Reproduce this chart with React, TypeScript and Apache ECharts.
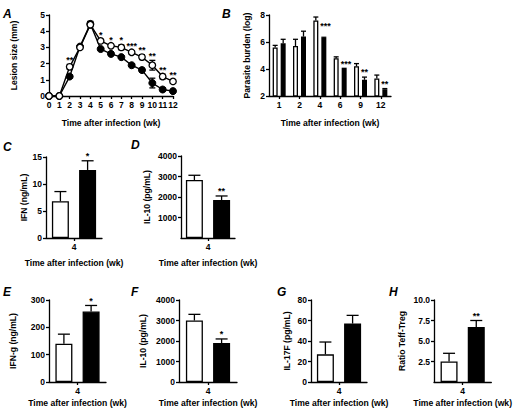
import React, { useEffect, useRef } from "react";
import * as echarts from "echarts";

// ---------- Data ----------
const weeks = [0, 1, 2, 3, 4, 5, 6, 7, 8, 9, 10, 11, 12];
const lesionOpen = [0, 0, 1.8, 3.0, 4.4, 3.4, 3.1, 3.0, 2.7, 2.4, 1.9, 1.2, 0.9];
const lesionOpenErr = [0, 0, 0.15, 0.1, 0.2, 0.1, 0.1, 0.15, 0.1, 0.15, 0.3, 0.15, 0.1];
const lesionFilled = [0, 0, 1.2, 3.05, 4.45, 2.9, 2.6, 2.4, 1.9, 1.6, 0.8, 0.4, 0.3];
const lesionFilledErr = [0, 0, 0.1, 0.1, 0.15, 0.1, 0.08, 0.08, 0.1, 0.1, 0.3, 0.12, 0.05];
const lesionStars = ["", "", "**", "", "", "*", "*", "*", "***", "**", "**", "**", "**"];

const parasiteWeeks = ["1", "2", "4", "6", "9", "12"];
const parasiteOpen = [5.6, 5.7, 7.6, 4.8, 4.2, 3.3];
const parasiteOpenErr = [0.15, 0.5, 0.25, 0.1, 0.2, 0.25];
const parasiteFilled = [5.9, 6.4, 6.3, 4.0, 3.2, 2.5];
const parasiteFilledErr = [0.3, 0.4, 0.05, 0.05, 0.2, 0.05];
const parasiteStars = ["", "", "***", "***", "**", "**"];

const singleWeek = ["4"];
const ifnC = [6.8, 12.6];
const ifnCErr = [1.8, 1.7];
const il10D = [2830, 1850];
const il10DErr = [230, 200];
const ifngE = [140, 258];
const ifngEErr = [35, 22];
const il10F = [3000, 1900];
const il10FErr = [300, 200];
const il17G = [27, 57];
const il17GErr = [12, 8];
const ratioH = [2.5, 6.7];
const ratioHErr = [1.0, 0.8];

const xTitle = "Time after infection (wk)";

// ---------- Styles ----------
const BLACK = "#000000";
const FONT = "'Liberation Sans', Arial, Helvetica, sans-serif";
const nameStyle = { color: BLACK, fontSize: 8.6, fontWeight: "bold", fontFamily: FONT };
const labelStyle = { color: BLACK, fontSize: 8.5, fontWeight: "bold", fontFamily: FONT };
const axisLine = { show: true, onZero: false, lineStyle: { color: BLACK, width: 1.3 } };
const axisTick = { show: true, length: 3, lineStyle: { color: BLACK, width: 1.3 } };
const STAR_FONT = "bold 9px 'Liberation Sans', Arial, sans-serif";

const grids = [
  { left: 49, top: 15, width: 124, height: 81 }, // A
  { left: 269, top: 15, width: 122, height: 81 }, // B
  { left: 46, top: 157, width: 56, height: 81 }, // C
  { left: 181, top: 156, width: 54, height: 82 }, // D
  { left: 49, top: 300, width: 57, height: 82 }, // E
  { left: 179, top: 300, width: 58, height: 82 }, // F
  { left: 311, top: 300, width: 56, height: 82 }, // G
  { left: 434, top: 300, width: 59, height: 82 }, // H
];

const letters = [
  { t: "A", x: 3, y: 14 },
  { t: "B", x: 222, y: 14 },
  { t: "C", x: 3, y: 147 },
  { t: "D", x: 131, y: 145 },
  { t: "E", x: 3, y: 292 },
  { t: "F", x: 131, y: 292 },
  { t: "G", x: 277, y: 292 },
  { t: "H", x: 389, y: 292 },
];

const plainFmt = (v: number) => String(v);

function yAxis(gi: number, min: number, max: number, interval: number, name: string, nameGap: number) {
  return {
    type: "value",
    gridIndex: gi,
    min,
    max,
    interval,
    name,
    nameLocation: "middle",
    nameGap,
    nameTextStyle: nameStyle,
    axisLine,
    axisTick,
    axisLabel: { ...labelStyle, margin: 4, formatter: plainFmt } as any,
    splitLine: { show: false },
  };
}

function catXAxis(gi: number, data: string[], nameGap: number) {
  return {
    type: "category",
    gridIndex: gi,
    data,
    name: xTitle,
    nameLocation: "middle",
    nameGap,
    nameTextStyle: nameStyle,
    axisLine,
    axisTick: { ...axisTick, alignWithLabel: true },
    axisLabel: { ...labelStyle, margin: 4 },
    splitLine: { show: false },
  };
}

function errorBars(ai: number, rows: number[][], off: number, cap: number, both: boolean) {
  return {
    type: "custom",
    xAxisIndex: ai,
    yAxisIndex: ai,
    z: 6,
    clip: false,
    data: rows,
    renderItem: (params: any, api: any) => {
      const c = api.value(0);
      const v = api.value(1);
      const e = api.value(2);
      const s = api.value(3);
      const base = api.coord([c, v]);
      const top = api.coord([c, v + e]);
      const bot = api.coord([c, v - e]);
      const x = base[0] + s * off;
      const st = { stroke: BLACK, lineWidth: 1.3 };
      const children: any[] = [
        { type: "line", shape: { x1: x, y1: both ? bot[1] : base[1], x2: x, y2: top[1] }, style: st },
        { type: "line", shape: { x1: x - cap / 2, y1: top[1], x2: x + cap / 2, y2: top[1] }, style: st },
      ];
      if (both) {
        children.push({ type: "line", shape: { x1: x - cap / 2, y1: bot[1], x2: x + cap / 2, y2: bot[1] }, style: st });
      }
      return { type: "group", children };
    },
  };
}

function starSeries(ai: number, rows: number[][], texts: string[], dx: number, dy: number, align: string, vAlign: string) {
  return {
    type: "custom",
    xAxisIndex: ai,
    yAxisIndex: ai,
    z: 7,
    clip: false,
    data: rows,
    renderItem: (params: any, api: any) => {
      const p = api.coord([api.value(0), api.value(1)]);
      return {
        type: "text",
        x: p[0] + dx,
        y: p[1] + dy,
        style: {
          text: texts[params.dataIndex],
          fill: BLACK,
          font: STAR_FONT,
          align,
          verticalAlign: vAlign,
          textAlign: align,
          textVerticalAlign: vAlign,
        },
      };
    },
  };
}

const BW = 17;
const BGAP = 0.6;
const OFF = (BW * (1 + BGAP)) / 2;
const BW_B = 5;
const OFF_B = (BW_B * (1 + BGAP)) / 2;

const openBarStyle = { color: "#ffffff", borderColor: BLACK, borderWidth: 1.3 };
const filledBarStyle = { color: BLACK, borderColor: BLACK, borderWidth: 1.3 };

const barPanels = [
  { gi: 2, vals: ifnC, errs: ifnCErr, star: "*", min: 0, max: 15, interval: 5, yName: "IFN (ng/mL)", yGap: 14.7, xGap: 20.7, hideMin: false, fmt: null as any },
  { gi: 3, vals: il10D, errs: il10DErr, star: "**", min: 0, max: 4000, interval: 1000, yName: "IL-10 (pg/mL)", yGap: 29.7, xGap: 20.7, hideMin: true, fmt: null },
  { gi: 4, vals: ifngE, errs: ifngEErr, star: "*", min: 0, max: 300, interval: 100, yName: "IFN-g (ng/mL)", yGap: 31.7, xGap: 16.7, hideMin: false, fmt: null },
  { gi: 5, vals: il10F, errs: il10FErr, star: "*", min: 0, max: 4000, interval: 1000, yName: "IL-10 (pg/mL)", yGap: 31.7, xGap: 16.7, hideMin: false, fmt: null },
  { gi: 6, vals: il17G, errs: il17GErr, star: "", min: 0, max: 80, interval: 20, yName: "IL-17F (pg/mL)", yGap: 19.7, xGap: 16.7, hideMin: false, fmt: null },
  { gi: 7, vals: ratioH, errs: ratioHErr, star: "**", min: 0, max: 10, interval: 2.5, yName: "Ratio Teff-Treg", yGap: 27.7, xGap: 16.7, hideMin: true, fmt: (v: number) => v.toFixed(1) },
];

function buildOption() {
  const xAxes: any[] = [];
  const yAxes: any[] = [];
  const series: any[] = [];

  // Panel A
  xAxes.push({
    type: "value",
    gridIndex: 0,
    min: 0,
    max: 12,
    interval: 1,
    name: xTitle,
    nameLocation: "middle",
    nameGap: 22.7,
    nameTextStyle: nameStyle,
    axisLine,
    axisTick,
    axisLabel: { ...labelStyle, margin: 4, formatter: plainFmt },
    splitLine: { show: false },
  });
  yAxes.push(yAxis(0, 0, 5, 1, "Lesion size (mm)", 30.7));
  series.push(
    errorBars(0, weeks.map((w, i) => [w, lesionFilled[i], lesionFilledErr[i], 0]).filter((r) => r[2] > 0), 0, 6, true),
    errorBars(0, weeks.map((w, i) => [w, lesionOpen[i], lesionOpenErr[i], 0]).filter((r) => r[2] > 0), 0, 6, true),
    {
      type: "line",
      xAxisIndex: 0,
      yAxisIndex: 0,
      data: weeks.map((w, i) => [w, lesionFilled[i]]),
      symbol: "circle",
      symbolSize: 7,
      clip: false,
      z: 8,
      lineStyle: { color: BLACK, width: 1.4 },
      itemStyle: { color: BLACK, borderColor: BLACK, borderWidth: 1 },
    },
    {
      type: "line",
      xAxisIndex: 0,
      yAxisIndex: 0,
      data: weeks.map((w, i) => [w, lesionOpen[i]]),
      symbol: "circle",
      symbolSize: 6.5,
      clip: false,
      z: 9,
      lineStyle: { color: BLACK, width: 1.4 },
      itemStyle: { color: "#ffffff", borderColor: BLACK, borderWidth: 1.3 },
    }
  );
  {
    const idx = weeks.map((w, i) => i).filter((i) => lesionStars[i]);
    series.push(
      starSeries(
        0,
        idx.map((i) => [weeks[i], lesionOpen[i] + lesionOpenErr[i]]),
        idx.map((i) => lesionStars[i]),
        0,
        0,
        "center",
        "bottom"
      )
    );
  }

  // Panel B
  xAxes.push(catXAxis(1, parasiteWeeks, 22.7));
  yAxes.push(yAxis(1, 2, 8, 2, "Parasite burden (log)", 17.7));
  series.push(
    { type: "bar", xAxisIndex: 1, yAxisIndex: 1, data: parasiteOpen, barWidth: BW_B, barGap: BGAP * 100 + "%", itemStyle: openBarStyle, z: 3 },
    { type: "bar", xAxisIndex: 1, yAxisIndex: 1, data: parasiteFilled, barWidth: BW_B, barGap: BGAP * 100 + "%", itemStyle: filledBarStyle, z: 3 },
    errorBars(
      1,
      parasiteWeeks.flatMap((c, i) => [
        [i, parasiteOpen[i], parasiteOpenErr[i], -1],
        [i, parasiteFilled[i], parasiteFilledErr[i], 1],
      ]),
      OFF_B,
      5,
      false
    )
  );
  {
    const idx = parasiteWeeks.map((c, i) => i).filter((i) => parasiteStars[i]);
    series.push(
      starSeries(
        1,
        idx.map((i) => [i, parasiteOpen[i]]),
        idx.map((i) => parasiteStars[i]),
        0.5,
        1.5,
        "left",
        "top"
      )
    );
  }

  // Panels C-H
  barPanels.forEach((p) => {
    xAxes.push(catXAxis(p.gi, singleWeek, p.xGap));
    const ya: any = yAxis(p.gi, p.min, p.max, p.interval, p.yName, p.yGap);
    if (p.hideMin) ya.axisLabel.showMinLabel = false;
    if (p.fmt) ya.axisLabel.formatter = p.fmt;
    yAxes.push(ya);
    series.push(
      { type: "bar", xAxisIndex: p.gi, yAxisIndex: p.gi, data: [p.vals[0]], barWidth: BW, barGap: BGAP * 100 + "%", itemStyle: openBarStyle, z: 3 },
      { type: "bar", xAxisIndex: p.gi, yAxisIndex: p.gi, data: [p.vals[1]], barWidth: BW, barGap: BGAP * 100 + "%", itemStyle: filledBarStyle, z: 3 },
      errorBars(
        p.gi,
        [
          [0, p.vals[0], p.errs[0], -1],
          [0, p.vals[1], p.errs[1], 1],
        ],
        OFF,
        12,
        false
      )
    );
    if (p.star) {
      series.push(starSeries(p.gi, [[0, p.vals[1] + p.errs[1]]], [p.star], OFF, 0, "center", "bottom"));
    }
  });

  return {
    animation: false,
    backgroundColor: "#ffffff",
    textStyle: { fontFamily: FONT },
    grid: grids.map((g) => ({ ...g, containLabel: false })),
    xAxis: xAxes,
    yAxis: yAxes,
    series,
    graphic: letters.map((l) => ({
      type: "text",
      x: l.x,
      y: l.y,
      style: {
        text: l.t,
        fill: BLACK,
        font: "italic bold 12px 'Liberation Sans', Arial, sans-serif",
        align: "left",
        verticalAlign: "middle",
        textAlign: "left",
        textVerticalAlign: "middle",
      },
    })),
  };
}

export default function App() {
  const ref = useRef<HTMLDivElement>(null);
  useEffect(() => {
    if (!ref.current) return;
    const chart = echarts.init(ref.current, null, { renderer: "svg" });
    chart.setOption(buildOption() as any);
    return () => chart.dispose();
  }, []);
  return (
    <div
      ref={ref}
      style={{ position: "absolute", left: 0, top: 0, width: 514, height: 413, background: "#ffffff" }}
    />
  );
}
